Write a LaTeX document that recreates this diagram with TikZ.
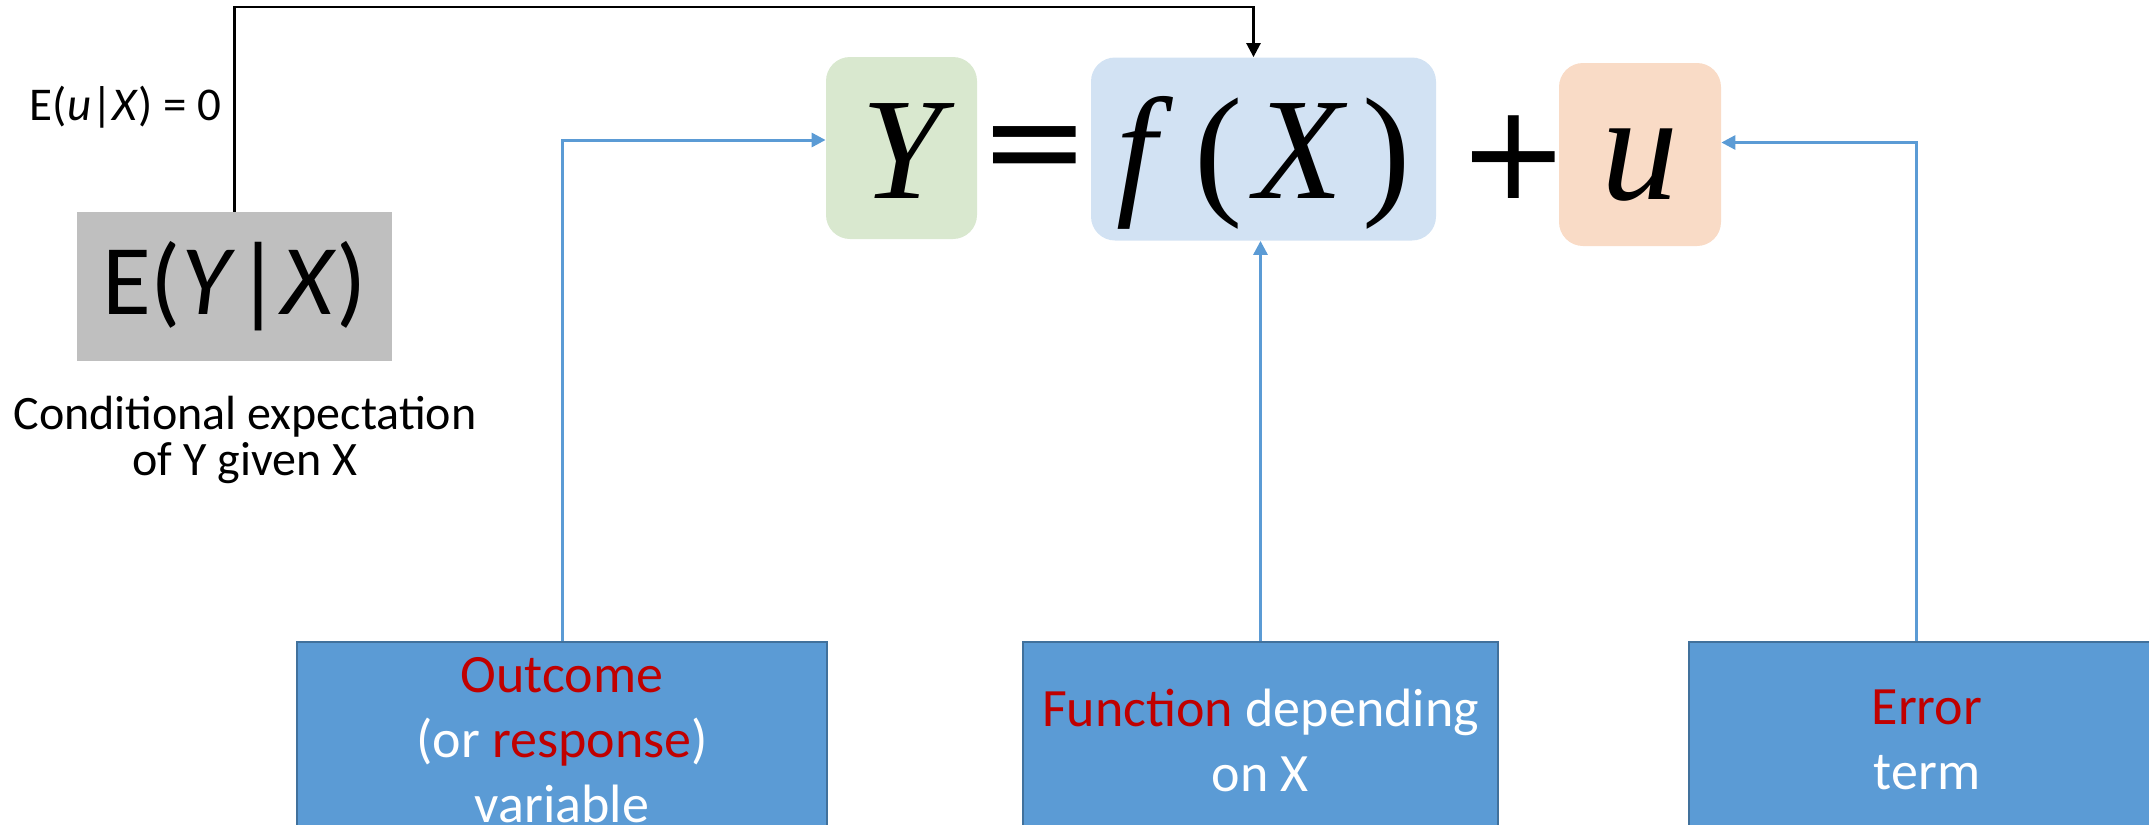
\documentclass[tikz,border=0pt]{standalone}
\usepackage{fontspec}
\setmainfont{Carlito}
\newfontfamily\eqserif{Liberation Serif}
\newfontfamily\eqsign{DejaVu Sans}
\usetikzlibrary{arrows.meta}
\definecolor{bfill}{HTML}{5B9BD5}
\definecolor{bdraw}{HTML}{41719C}
\definecolor{dred}{HTML}{C00000}
\definecolor{ygreen}{HTML}{D9E8CF}
\definecolor{fblue}{HTML}{D2E2F3}
\definecolor{uorange}{HTML}{F9DBC6}
\definecolor{grayb}{HTML}{BFBFBF}
\begin{document}
\begin{tikzpicture}[x=0.5pt,y=-0.5pt,
  bluebox/.style={draw=bdraw, line width=1.2pt, fill=bfill, text=white, align=center,
    minimum height=98pt, anchor=north, inner sep=0pt, font=\fontsize{27}{32.5}\selectfont},
  eqbox/.style={rounded corners=12pt, inner sep=0pt, text depth=0pt},
  bigmath/.style={font=\fontsize{72.5}{80}\eqserif\selectfont},
  opsign/.style={inner sep=0pt, font=\fontsize{66}{70}\eqsign\selectfont},
  bline/.style={draw=bfill, line width=1.5pt, -{Triangle[length=7pt,width=7pt]}},
  kline/.style={draw=black, line width=1.3pt, -{Triangle[length=7pt,width=7pt]}}]
\useasboundingbox (0,0) rectangle (2149,825);
\clip (0,0) rectangle (2149,825);
% equation
\node[eqbox, fill=ygreen, minimum width=75.5pt, minimum height=91pt, text height=50pt, bigmath] (Y) at (901.5,148) {\itshape Y};
\node[opsign] (eq) at (1035,157) {=};
\node[eqbox, fill=fblue, minimum width=172.5pt, minimum height=91.5pt, text height=49pt, bigmath] (fx) at (1263.5,149) {\textit{f}\kern0.15em(\kern0.08em\textit{X}\kern0.1em)};
\node[opsign] (plus) at (1514,157) {+};
\node[eqbox, fill=uorange, minimum width=81pt, minimum height=91.5pt, text height=44.5pt, font=\fontsize{77}{80}\eqserif\selectfont] (u) at (1640,154.5) {\itshape u};
% conditional expectation
\node[fill=grayb, minimum width=157.5pt, minimum height=74.5pt, inner sep=0pt, font=\fontsize{50}{60}\selectfont] (gray) at (234.5,286.5) {E(\textit{Y}|\textit{X})};
\node[align=center, inner sep=0pt, font=\fontsize{24}{23}\selectfont] (cap) at (245,440) {Conditional expectation\\of Y given X};
\node[anchor=east, inner sep=0pt, font=\fontsize{23.5}{26}\selectfont] (cond) at (222,107) {E(\textit{u}|\textit{X}) = 0};
% bottom boxes
\node[bluebox, minimum width=265pt] (out) at (562,641) {\textcolor{dred}{Outcome}\\(or \textcolor{dred}{response})\\variable};
\node[bluebox, minimum width=237.5pt] (fun) at (1260.5,641) {\textcolor{dred}{Function} depending\\on X};
\node[bluebox, minimum width=238pt] (err) at (1927,641) {\textcolor{dred}{Error}\\term};
% connectors
\coordinate (top) at (0,7);
\draw[kline] (gray.north) -- (gray.north |- top) -| ([xshift=-5pt]fx.north);
\draw[bline] (out.north) |- ([yshift=4pt]Y.west);
\draw[bline] (fun.north) -- (fun.north |- fx.south);
\draw[bline] ([xshift=-5.5pt]err.north) |- ([yshift=6pt]u.east);
\end{tikzpicture}
\end{document}
